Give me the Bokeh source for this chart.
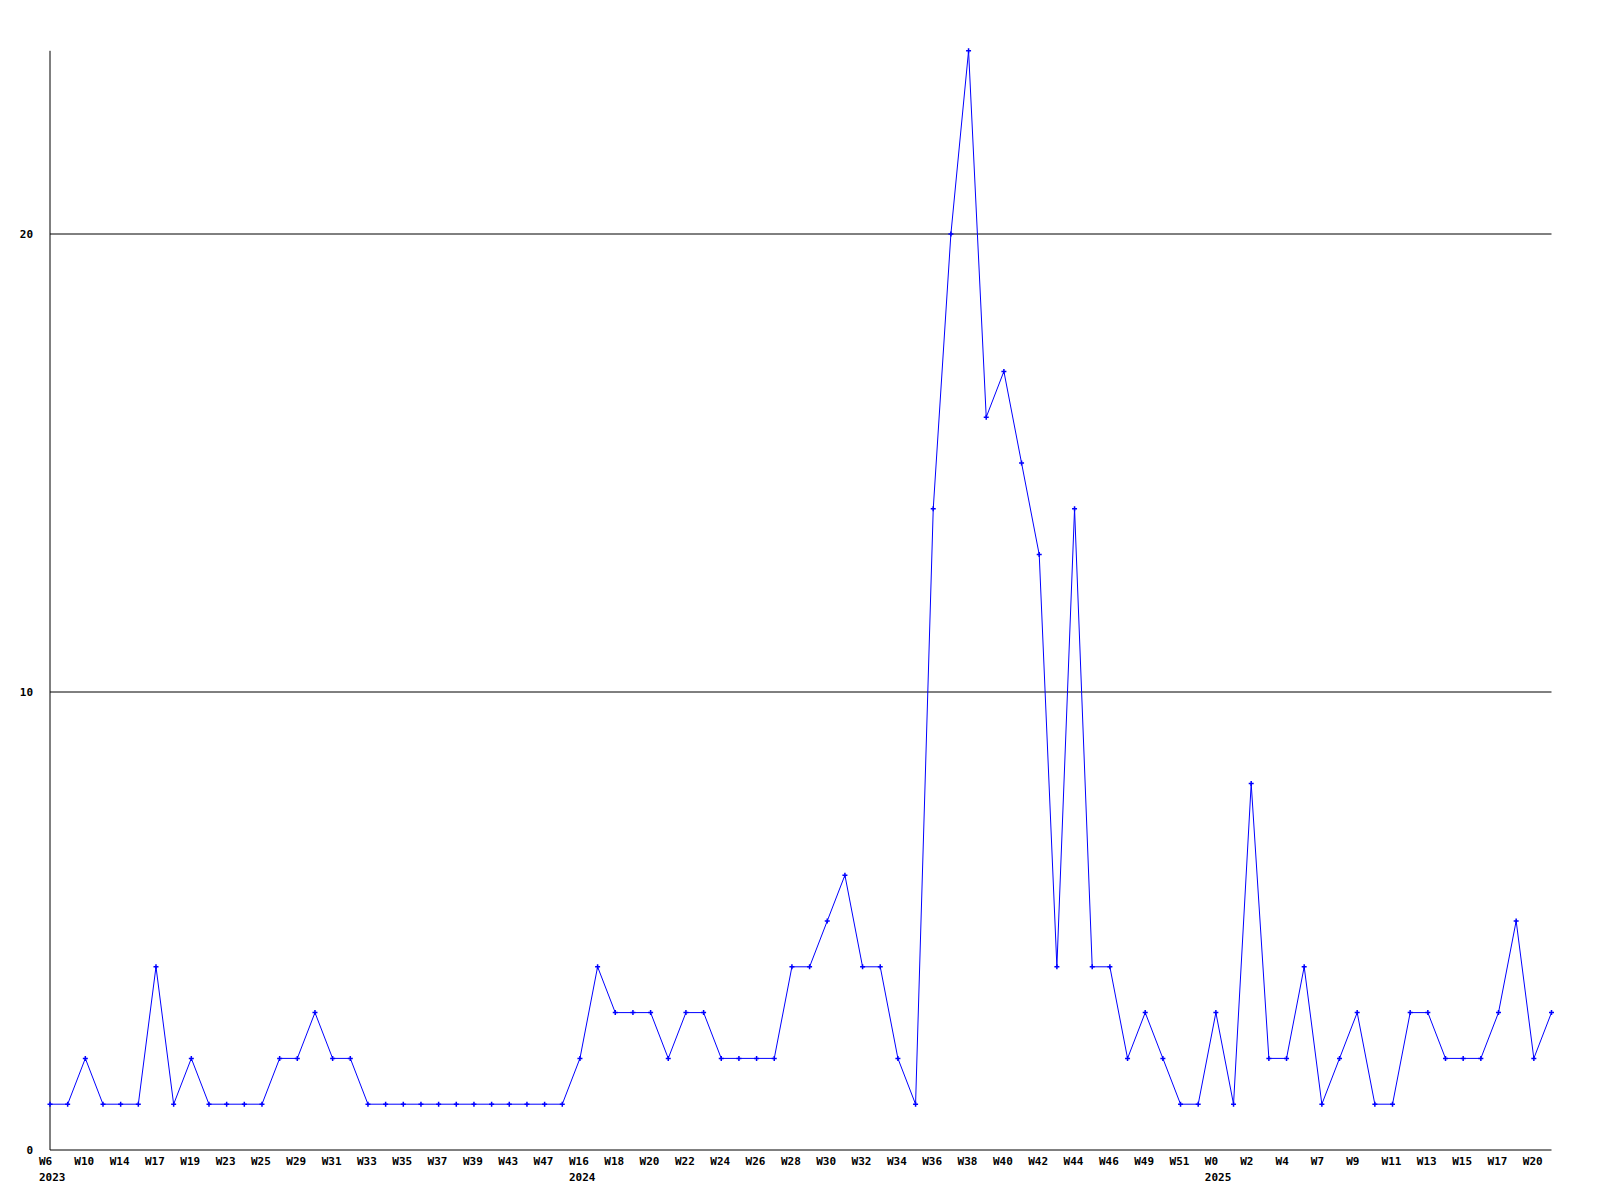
from bokeh.plotting import figure
from bokeh.models import Range1d
from bokeh.core.properties import value
from bokeh.embed import file_html
from bokeh.resources import INLINE

# ---- data ----
counts = [1, 1, 2, 1, 1, 1, 4, 1, 2, 1,
          1, 1, 1, 2, 2, 3, 2, 2, 1, 1,
          1, 1, 1, 1, 1, 1, 1, 1, 1, 1,
          2, 4, 3, 3, 3, 2, 3, 3, 2, 2,
          2, 2, 4, 4, 5, 6, 4, 4, 2, 1,
          14, 20, 24, 16, 17, 15, 13, 4, 14, 4,
          4, 2, 3, 2, 1, 1, 3, 1, 8, 2,
          2, 4, 1, 2, 3, 1, 1, 3, 3, 2,
          2, 2, 3, 5, 2, 3]

# week tick labels, one on every second point
week_labels = ["W6", "W10", "W14", "W17", "W19", "W23", "W25", "W29", "W31", "W33",
               "W35", "W37", "W39", "W43", "W47",
               "W16", "W18", "W20", "W22", "W24", "W26", "W28", "W30", "W32", "W34",
               "W36", "W38", "W40", "W42", "W44", "W46", "W49", "W51",
               "W0", "W2", "W4", "W7", "W9", "W11", "W13", "W15", "W17", "W20"]
year_labels = ["2023", "2024", "2025"]
year_label_points = [0, 30, 66]
y_ticks = [0, 10, 20]
grid_values = [10, 20]

# ---- layout (page pixels) ----
W, H = 1590, 1194
PAGE = 0
left_px, right_px, top_px, bottom_px = 49.5, 1551, 50.3, 1149.5

n = len(counts)
xmax = n - 1
ymax = max(counts)
sx = (right_px - left_px) / xmax
x0 = -(left_px - PAGE) / sx
x1 = x0 + W / sx
sy = (bottom_px - top_px) / ymax
y1 = ymax + (top_px - PAGE) / sy
y0 = y1 - H / sy

p = figure(width=W, height=H, x_range=Range1d(x0, x1), y_range=Range1d(y0, y1),
           x_axis_type=None, y_axis_type=None, toolbar_location=None,
           output_backend="svg", min_border=0)
p.outline_line_color = None
p.background_fill_color = "white"
p.border_fill_color = "white"

FONT = value("DejaVu Sans Mono")

# grid lines and axes
p.segment(x0=[0] * len(grid_values), y0=grid_values, x1=[xmax] * len(grid_values),
          y1=grid_values, line_color="black", line_width=1)
p.segment(x0=[0], y0=[0], x1=[xmax], y1=[0], line_color="black", line_width=1)
p.segment(x0=[0], y0=[0], x1=[0], y1=[ymax], line_color="black", line_width=1)

# data
xs = list(range(n))
p.line(x=xs, y=counts, line_color="#0000ff", line_width=1)
p.scatter(x=xs, y=counts, marker="cross", size=5, line_color="#0000ff", line_width=1.5)

# x tick labels
week_x = [2 * i for i in range(len(week_labels))]
p.text(x=week_x, y=[0] * len(week_x), text=week_labels, text_font=FONT,
       text_font_style="bold", text_font_size="11px", text_color="black",
       text_align="left", text_baseline="alphabetic", x_offset=-11, y_offset=11)
p.text(x=year_label_points, y=[0] * len(year_label_points), text=year_labels, text_font=FONT,
       text_font_style="bold", text_font_size="11px", text_color="black",
       text_align="left", text_baseline="alphabetic", x_offset=-11, y_offset=27)

# y tick labels
p.text(x=[0] * len(y_ticks), y=y_ticks, text=[str(t) for t in y_ticks], text_font=FONT,
       text_font_style="bold", text_font_size="11px", text_color="black",
       text_align="right", text_baseline="alphabetic", x_offset=-17, y_offset=0)

open("out.html", "w").write(file_html(p, INLINE))
